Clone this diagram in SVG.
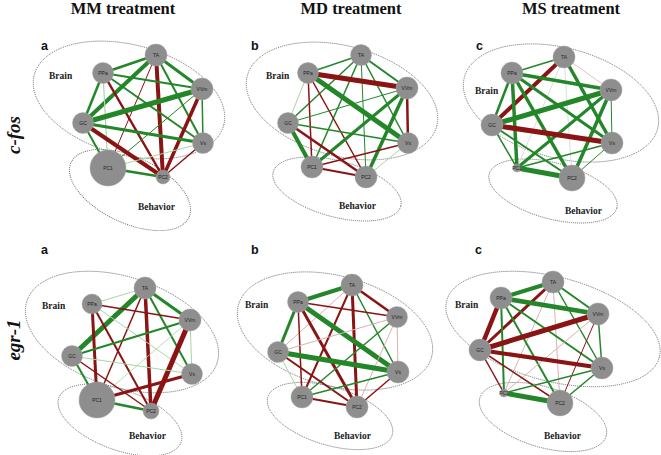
<svg xmlns="http://www.w3.org/2000/svg" width="661" height="455" viewBox="0 0 661 455">
<style>
.bg{fill:#fff}
.title{font-family:"Liberation Serif",serif;font-weight:bold;font-size:16.5px;fill:#111;text-anchor:middle}
.gene{font-family:"Liberation Serif",serif;font-weight:bold;font-style:italic;font-size:19px;fill:#111;text-anchor:middle}
.let{font-family:"Liberation Sans",sans-serif;font-weight:bold;font-size:12.5px;fill:#111}
.grp{font-family:"Liberation Serif",serif;font-weight:bold;font-size:9.5px;fill:#222}
.ell{fill:none;stroke:#666;stroke-width:0.9;stroke-dasharray:1 1}
.n circle{fill:#8e8e8e;stroke:#a4a4a4;stroke-width:0.5}
.n text{font-family:"Liberation Sans",sans-serif;font-size:5px;fill:#222;text-anchor:middle;dominant-baseline:central}
.e line{stroke-linecap:butt}
.g{stroke:#23872a}
.r{stroke:#8a1414}
.lg{stroke:#a9d6a2}
.lr{stroke:#dcb0b0}
.gr{stroke:#dcdcdc}
</style>
<rect class="bg" width="661" height="455"/>
<text class="title" x="123" y="14">MM treatment</text>
<text class="title" x="351" y="14">MD treatment</text>
<text class="title" x="571" y="14">MS treatment</text>
<text class="gene" transform="translate(20,135) rotate(-90)">c-fos</text>
<text class="gene" transform="translate(20,340) rotate(-90)">egr-1</text>
<text class="let" x="41" y="50">a</text>
<text class="let" x="251" y="50">b</text>
<text class="let" x="476" y="50">c</text>
<text class="let" x="41" y="254">a</text>
<text class="let" x="251" y="254">b</text>
<text class="let" x="475" y="254">c</text>
<g id="groups">
<ellipse class="ell" cx="129" cy="100" rx="98" ry="55" transform="rotate(15 129 100)"/>
<ellipse class="ell" cx="130" cy="190" rx="65" ry="33" transform="rotate(25 130 190)"/>
<ellipse class="ell" cx="342" cy="101" rx="98" ry="55" transform="rotate(15 342 101)"/>
<ellipse class="ell" cx="337" cy="189" rx="66" ry="28" transform="rotate(15 337 189)"/>
<ellipse class="ell" cx="561" cy="103" rx="100" ry="55" transform="rotate(15 561 103)"/>
<ellipse class="ell" cx="553" cy="191" rx="66" ry="28" transform="rotate(15 553 191)"/>
<ellipse class="ell" cx="122" cy="332" rx="100" ry="55" transform="rotate(18 122 332)"/>
<ellipse class="ell" cx="120" cy="420" rx="65" ry="30" transform="rotate(20 120 420)"/>
<ellipse class="ell" cx="335" cy="331" rx="100" ry="55" transform="rotate(15 335 331)"/>
<ellipse class="ell" cx="330" cy="416" rx="65" ry="29" transform="rotate(17 330 416)"/>
<ellipse class="ell" cx="553" cy="329" rx="110" ry="52" transform="rotate(15 553 329)"/>
<ellipse class="ell" cx="543" cy="417" rx="66" ry="30" transform="rotate(17 543 417)"/>
<text class="grp" x="49" y="79">Brain</text>
<text class="grp" x="138" y="210">Behavior</text>
<text class="grp" x="266" y="79">Brain</text>
<text class="grp" x="339" y="209">Behavior</text>
<text class="grp" x="475" y="94">Brain</text>
<text class="grp" x="565" y="214">Behavior</text>
<text class="grp" x="42" y="309">Brain</text>
<text class="grp" x="129" y="439">Behavior</text>
<text class="grp" x="245" y="308">Brain</text>
<text class="grp" x="334" y="439">Behavior</text>
<text class="grp" x="455" y="308">Brain</text>
<text class="grp" x="544" y="439">Behavior</text>
</g>
<g id="connectors" class="e">
<!-- panel 1 -->
<line class="g" x1="156" y1="55" x2="103" y2="73" stroke-width="2.5"/>
<line class="g" x1="156" y1="55" x2="202" y2="89" stroke-width="3"/>
<line class="g" x1="156" y1="55" x2="83" y2="123" stroke-width="4"/>
<line class="g" x1="156" y1="55" x2="203" y2="143" stroke-width="2"/>
<line class="r" x1="156" y1="55" x2="108" y2="168" stroke-width="1"/>
<line class="r" x1="156" y1="55" x2="163" y2="177" stroke-width="4"/>
<line class="g" x1="103" y1="73" x2="202" y2="89" stroke-width="2"/>
<line class="g" x1="103" y1="73" x2="83" y2="123" stroke-width="2.5"/>
<line class="g" x1="103" y1="73" x2="203" y2="143" stroke-width="2"/>
<line class="lg" x1="103" y1="73" x2="108" y2="168" stroke-width="1.2"/>
<line class="r" x1="103" y1="73" x2="163" y2="177" stroke-width="2.5"/>
<line class="g" x1="202" y1="89" x2="83" y2="123" stroke-width="5"/>
<line class="g" x1="202" y1="89" x2="203" y2="143" stroke-width="1.5"/>
<line class="g" x1="202" y1="89" x2="108" y2="168" stroke-width="1"/>
<line class="r" x1="202" y1="89" x2="163" y2="177" stroke-width="3.5"/>
<line class="g" x1="83" y1="123" x2="203" y2="143" stroke-width="3"/>
<line class="g" x1="83" y1="123" x2="108" y2="168" stroke-width="2"/>
<line class="r" x1="83" y1="123" x2="163" y2="177" stroke-width="4"/>
<line class="lg" x1="203" y1="143" x2="108" y2="168" stroke-width="1"/>
<line class="r" x1="203" y1="143" x2="163" y2="177" stroke-width="1.5"/>
<line class="g" x1="108" y1="168" x2="163" y2="177" stroke-width="2.5"/>
<!-- panel 2 -->
<line class="g" x1="361" y1="55" x2="308" y2="73" stroke-width="1.5"/>
<line class="g" x1="361" y1="55" x2="407" y2="88" stroke-width="2"/>
<line class="g" x1="361" y1="55" x2="288" y2="123" stroke-width="1.5"/>
<line class="g" x1="361" y1="55" x2="408" y2="143" stroke-width="1.5"/>
<line class="g" x1="361" y1="55" x2="312" y2="167" stroke-width="1.5"/>
<line class="g" x1="361" y1="55" x2="366" y2="177" stroke-width="1"/>
<line class="r" x1="308" y1="73" x2="407" y2="88" stroke-width="5"/>
<line class="lg" x1="308" y1="73" x2="288" y2="123" stroke-width="1"/>
<line class="g" x1="308" y1="73" x2="408" y2="143" stroke-width="5"/>
<line class="r" x1="308" y1="73" x2="312" y2="167" stroke-width="1.5"/>
<line class="r" x1="308" y1="73" x2="366" y2="177" stroke-width="1.5"/>
<line class="g" x1="407" y1="88" x2="288" y2="123" stroke-width="1"/>
<line class="r" x1="407" y1="88" x2="408" y2="143" stroke-width="2.5"/>
<line class="g" x1="407" y1="88" x2="312" y2="167" stroke-width="3"/>
<line class="g" x1="407" y1="88" x2="366" y2="177" stroke-width="3.5"/>
<line class="g" x1="288" y1="123" x2="408" y2="143" stroke-width="1.5"/>
<line class="g" x1="288" y1="123" x2="312" y2="167" stroke-width="4"/>
<line class="r" x1="288" y1="123" x2="366" y2="177" stroke-width="2.5"/>
<line class="r" x1="408" y1="143" x2="312" y2="167" stroke-width="1.5"/>
<line class="lg" x1="408" y1="143" x2="366" y2="177" stroke-width="1"/>
<line class="r" x1="312" y1="167" x2="366" y2="177" stroke-width="2"/>
<!-- panel 3 -->
<line class="g" x1="564" y1="57" x2="512" y2="73" stroke-width="1.5"/>
<line class="lr" x1="564" y1="57" x2="611" y2="90" stroke-width="0.8"/>
<line class="r" x1="564" y1="57" x2="492" y2="125" stroke-width="4"/>
<line class="g" x1="564" y1="57" x2="612" y2="143" stroke-width="3.5"/>
<line class="gr" x1="564" y1="57" x2="517" y2="168" stroke-width="1"/>
<line class="gr" x1="564" y1="57" x2="572" y2="178" stroke-width="1"/>
<line class="g" x1="512" y1="73" x2="611" y2="90" stroke-width="3.5"/>
<line class="g" x1="512" y1="73" x2="492" y2="125" stroke-width="2.5"/>
<line class="g" x1="512" y1="73" x2="612" y2="143" stroke-width="3"/>
<line class="g" x1="512" y1="73" x2="517" y2="168" stroke-width="3.5"/>
<line class="g" x1="512" y1="73" x2="572" y2="178" stroke-width="3.5"/>
<line class="g" x1="611" y1="90" x2="492" y2="125" stroke-width="5"/>
<line class="g" x1="611" y1="90" x2="612" y2="143" stroke-width="1"/>
<line class="g" x1="611" y1="90" x2="517" y2="168" stroke-width="3"/>
<line class="g" x1="611" y1="90" x2="572" y2="178" stroke-width="3.5"/>
<line class="r" x1="492" y1="125" x2="612" y2="143" stroke-width="5"/>
<line class="g" x1="492" y1="125" x2="517" y2="168" stroke-width="1.5"/>
<line class="g" x1="492" y1="125" x2="572" y2="178" stroke-width="2"/>
<line class="g" x1="612" y1="143" x2="517" y2="168" stroke-width="1.5"/>
<line class="g" x1="612" y1="143" x2="572" y2="178" stroke-width="1"/>
<line class="g" x1="517" y1="168" x2="572" y2="178" stroke-width="5"/>
<!-- panel 4 -->
<line class="lg" x1="145" y1="288" x2="92" y2="304" stroke-width="1"/>
<line class="g" x1="145" y1="288" x2="190" y2="320" stroke-width="3"/>
<line class="g" x1="145" y1="288" x2="72" y2="356" stroke-width="5"/>
<line class="g" x1="145" y1="288" x2="192" y2="374" stroke-width="2"/>
<line class="r" x1="145" y1="288" x2="97" y2="400" stroke-width="1.5"/>
<line class="r" x1="145" y1="288" x2="151" y2="411" stroke-width="3.5"/>
<line class="r" x1="92" y1="304" x2="190" y2="320" stroke-width="1.5"/>
<line class="lg" x1="92" y1="304" x2="192" y2="374" stroke-width="1"/>
<line class="r" x1="92" y1="304" x2="97" y2="400" stroke-width="3"/>
<line class="r" x1="92" y1="304" x2="151" y2="411" stroke-width="2"/>
<line class="g" x1="190" y1="320" x2="72" y2="356" stroke-width="2"/>
<line class="lg" x1="190" y1="320" x2="192" y2="374" stroke-width="1"/>
<line class="lg" x1="190" y1="320" x2="97" y2="400" stroke-width="0.8"/>
<line class="r" x1="190" y1="320" x2="151" y2="411" stroke-width="5"/>
<line class="lg" x1="72" y1="356" x2="192" y2="374" stroke-width="1"/>
<line class="g" x1="72" y1="356" x2="97" y2="400" stroke-width="2"/>
<line class="r" x1="72" y1="356" x2="151" y2="411" stroke-width="1.5"/>
<line class="r" x1="192" y1="374" x2="97" y2="400" stroke-width="3"/>
<line class="g" x1="97" y1="400" x2="151" y2="411" stroke-width="2.5"/>
<!-- panel 5 -->
<line class="g" x1="352" y1="285" x2="298" y2="302" stroke-width="4"/>
<line class="r" x1="352" y1="285" x2="397" y2="317" stroke-width="2.5"/>
<line class="lr" x1="352" y1="285" x2="278" y2="352" stroke-width="1"/>
<line class="g" x1="352" y1="285" x2="398" y2="372" stroke-width="1.5"/>
<line class="r" x1="352" y1="285" x2="302" y2="397" stroke-width="2"/>
<line class="r" x1="352" y1="285" x2="357" y2="407" stroke-width="3"/>
<line class="r" x1="298" y1="302" x2="397" y2="317" stroke-width="1.5"/>
<line class="g" x1="298" y1="302" x2="278" y2="352" stroke-width="3"/>
<line class="g" x1="298" y1="302" x2="398" y2="372" stroke-width="5"/>
<line class="r" x1="298" y1="302" x2="302" y2="397" stroke-width="1.5"/>
<line class="r" x1="298" y1="302" x2="357" y2="407" stroke-width="3"/>
<line class="lr" x1="397" y1="317" x2="278" y2="352" stroke-width="1"/>
<line class="lr" x1="397" y1="317" x2="398" y2="372" stroke-width="1"/>
<line class="g" x1="397" y1="317" x2="302" y2="397" stroke-width="1.5"/>
<line class="lr" x1="397" y1="317" x2="357" y2="407" stroke-width="1"/>
<line class="g" x1="278" y1="352" x2="398" y2="372" stroke-width="5"/>
<line class="lg" x1="278" y1="352" x2="302" y2="397" stroke-width="1"/>
<line class="r" x1="278" y1="352" x2="357" y2="407" stroke-width="2"/>
<line class="g" x1="398" y1="372" x2="302" y2="397" stroke-width="1.5"/>
<line class="r" x1="398" y1="372" x2="357" y2="407" stroke-width="1.5"/>
<line class="r" x1="302" y1="397" x2="357" y2="407" stroke-width="2"/>
<!-- panel 6 -->
<line class="g" x1="553" y1="282" x2="501" y2="298" stroke-width="4"/>
<line class="g" x1="553" y1="282" x2="598" y2="314" stroke-width="2"/>
<line class="r" x1="553" y1="282" x2="480" y2="350" stroke-width="3"/>
<line class="g" x1="553" y1="282" x2="602" y2="368" stroke-width="1.5"/>
<line class="lr" x1="553" y1="282" x2="504" y2="393" stroke-width="1"/>
<line class="lr" x1="553" y1="282" x2="560" y2="403" stroke-width="1"/>
<line class="g" x1="501" y1="298" x2="598" y2="314" stroke-width="4.5"/>
<line class="r" x1="501" y1="298" x2="480" y2="350" stroke-width="4.5"/>
<line class="g" x1="501" y1="298" x2="602" y2="368" stroke-width="2"/>
<line class="g" x1="501" y1="298" x2="504" y2="393" stroke-width="2"/>
<line class="g" x1="501" y1="298" x2="560" y2="403" stroke-width="2"/>
<line class="r" x1="598" y1="314" x2="480" y2="350" stroke-width="5"/>
<line class="g" x1="598" y1="314" x2="602" y2="368" stroke-width="1.5"/>
<line class="lr" x1="598" y1="314" x2="504" y2="393" stroke-width="1"/>
<line class="r" x1="598" y1="314" x2="560" y2="403" stroke-width="1"/>
<line class="r" x1="480" y1="350" x2="602" y2="368" stroke-width="4"/>
<line class="r" x1="480" y1="350" x2="504" y2="393" stroke-width="1.5"/>
<line class="r" x1="480" y1="350" x2="560" y2="403" stroke-width="1.5"/>
<line class="g" x1="602" y1="368" x2="504" y2="393" stroke-width="1.5"/>
<line class="g" x1="602" y1="368" x2="560" y2="403" stroke-width="1.5"/>
<line class="g" x1="504" y1="393" x2="560" y2="403" stroke-width="5"/>
</g>
<!-- nodes panel 1 -->
<g id="p1-TA" class="n"><circle cx="156" cy="55" r="11"/><text x="156" y="55">TA</text></g>
<g id="p1-PPa" class="n"><circle cx="103" cy="73" r="10.5"/><text x="103" y="73">PPa</text></g>
<g id="p1-VVm" class="n"><circle cx="202" cy="89" r="11"/><text x="202" y="89">VVm</text></g>
<g id="p1-GC" class="n"><circle cx="83" cy="123" r="10.5"/><text x="83" y="123">GC</text></g>
<g id="p1-Vs" class="n"><circle cx="203" cy="143" r="10.5"/><text x="203" y="143">Vs</text></g>
<g id="p1-PC1" class="n"><circle cx="108" cy="168" r="18"/><text x="108" y="168">PC1</text></g>
<g id="p1-PC2" class="n"><circle cx="163" cy="177" r="7"/><text x="163" y="177">PC2</text></g>
<!-- nodes panel 2 -->
<g id="p2-TA" class="n"><circle cx="361" cy="55" r="10.5"/><text x="361" y="55">TA</text></g>
<g id="p2-PPa" class="n"><circle cx="308" cy="73" r="10.5"/><text x="308" y="73">PPa</text></g>
<g id="p2-VVm" class="n"><circle cx="407" cy="88" r="11"/><text x="407" y="88">VVm</text></g>
<g id="p2-GC" class="n"><circle cx="288" cy="123" r="10.5"/><text x="288" y="123">GC</text></g>
<g id="p2-Vs" class="n"><circle cx="408" cy="143" r="10.5"/><text x="408" y="143">Vs</text></g>
<g id="p2-PC1" class="n"><circle cx="312" cy="167" r="11"/><text x="312" y="167">PC1</text></g>
<g id="p2-PC2" class="n"><circle cx="366" cy="177" r="11"/><text x="366" y="177">PC2</text></g>
<!-- nodes panel 3 -->
<g id="p3-TA" class="n"><circle cx="564" cy="57" r="11"/><text x="564" y="57">TA</text></g>
<g id="p3-PPa" class="n"><circle cx="512" cy="73" r="11"/><text x="512" y="73">PPa</text></g>
<g id="p3-VVm" class="n"><circle cx="611" cy="90" r="11"/><text x="611" y="90">VVm</text></g>
<g id="p3-GC" class="n"><circle cx="492" cy="125" r="11"/><text x="492" y="125">GC</text></g>
<g id="p3-Vs" class="n"><circle cx="612" cy="143" r="11"/><text x="612" y="143">Vs</text></g>
<g id="p3-PC1" class="n"><circle cx="517" cy="168" r="4"/><text x="517" y="168">PC1</text></g>
<g id="p3-PC2" class="n"><circle cx="572" cy="178" r="13"/><text x="572" y="178">PC2</text></g>
<!-- nodes panel 4 -->
<g id="p4-TA" class="n"><circle cx="145" cy="288" r="11"/><text x="145" y="288">TA</text></g>
<g id="p4-PPa" class="n"><circle cx="92" cy="304" r="10"/><text x="92" y="304">PPa</text></g>
<g id="p4-VVm" class="n"><circle cx="190" cy="320" r="11"/><text x="190" y="320">VVm</text></g>
<g id="p4-GC" class="n"><circle cx="72" cy="356" r="10.5"/><text x="72" y="356">GC</text></g>
<g id="p4-Vs" class="n"><circle cx="192" cy="374" r="10.5"/><text x="192" y="374">Vs</text></g>
<g id="p4-PC1" class="n"><circle cx="97" cy="400" r="18"/><text x="97" y="400">PC1</text></g>
<g id="p4-PC2" class="n"><circle cx="151" cy="411" r="8"/><text x="151" y="411">PC2</text></g>
<!-- nodes panel 5 -->
<g id="p5-TA" class="n"><circle cx="352" cy="285" r="11"/><text x="352" y="285">TA</text></g>
<g id="p5-PPa" class="n"><circle cx="298" cy="302" r="10.5"/><text x="298" y="302">PPa</text></g>
<g id="p5-VVm" class="n"><circle cx="397" cy="317" r="10.5"/><text x="397" y="317">VVm</text></g>
<g id="p5-GC" class="n"><circle cx="278" cy="352" r="10.5"/><text x="278" y="352">GC</text></g>
<g id="p5-Vs" class="n"><circle cx="398" cy="372" r="11"/><text x="398" y="372">Vs</text></g>
<g id="p5-PC1" class="n"><circle cx="302" cy="397" r="11"/><text x="302" y="397">PC1</text></g>
<g id="p5-PC2" class="n"><circle cx="357" cy="407" r="11"/><text x="357" y="407">PC2</text></g>
<!-- nodes panel 6 -->
<g id="p6-TA" class="n"><circle cx="553" cy="282" r="11"/><text x="553" y="282">TA</text></g>
<g id="p6-PPa" class="n"><circle cx="501" cy="298" r="11"/><text x="501" y="298">PPa</text></g>
<g id="p6-VVm" class="n"><circle cx="598" cy="314" r="11"/><text x="598" y="314">VVm</text></g>
<g id="p6-GC" class="n"><circle cx="480" cy="350" r="11"/><text x="480" y="350">GC</text></g>
<g id="p6-Vs" class="n"><circle cx="602" cy="368" r="11"/><text x="602" y="368">Vs</text></g>
<g id="p6-PC1" class="n"><circle cx="504" cy="393" r="4"/><text x="504" y="393">PC1</text></g>
<g id="p6-PC2" class="n"><circle cx="560" cy="403" r="13"/><text x="560" y="403">PC2</text></g>
</svg>
